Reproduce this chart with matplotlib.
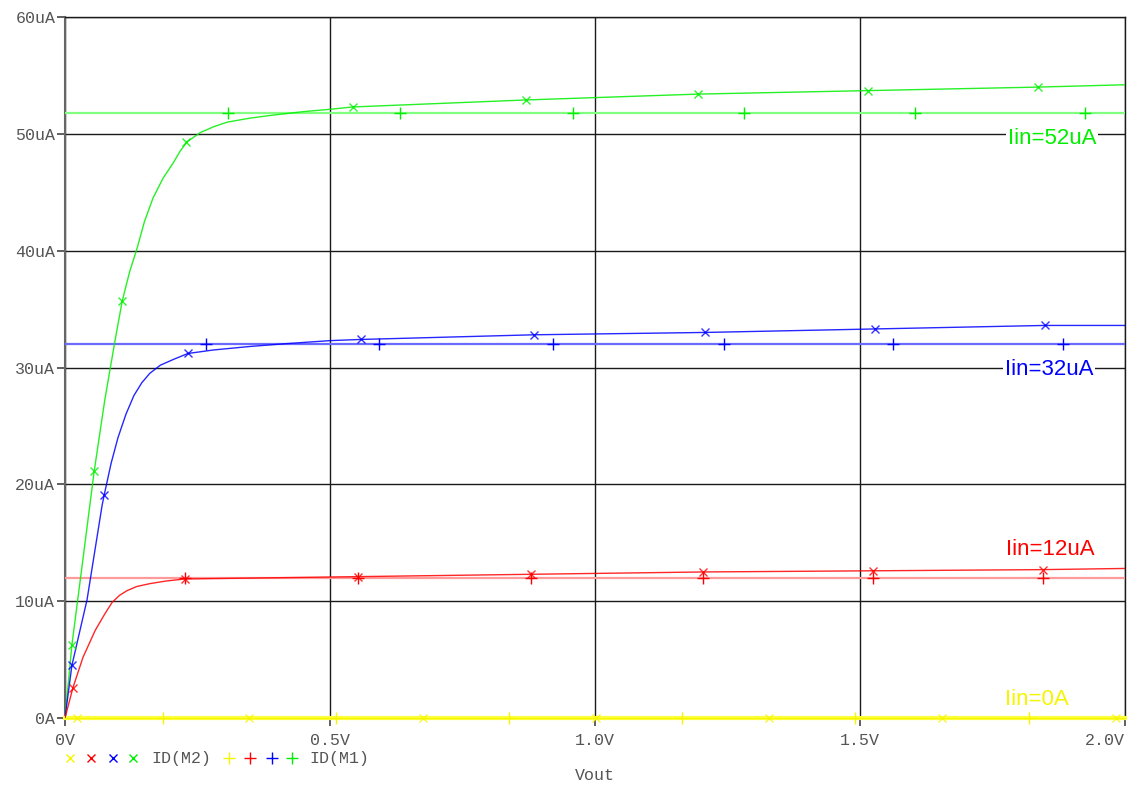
import matplotlib.pyplot as plt
import numpy as np

# ID(M2) traces: Vout (V) vs drain current (uA), one per input current
v_52 = [0.0, 0.013, 0.035, 0.055, 0.075, 0.094, 0.108, 0.122, 0.136, 0.150, 0.166, 0.185, 0.204,
        0.217, 0.230, 0.255, 0.280, 0.306, 0.350, 0.392, 0.450, 0.500,
        0.543, 0.870, 1.194, 1.515, 1.836, 2.0]
i_52 = [0.0, 6.25, 14.0, 21.1, 27.2, 32.2, 35.7, 38.2, 40.2, 42.5, 44.5, 46.2, 47.5,
        48.5, 49.3, 50.1, 50.6, 51.0, 51.35, 51.6, 51.9, 52.1,
        52.3, 52.9, 53.4, 53.7, 54.0, 54.2]

v_32 = [0.0, 0.013, 0.0415, 0.070, 0.074, 0.087, 0.100, 0.115, 0.130, 0.145, 0.160, 0.180, 0.205,
        0.232, 0.280, 0.349, 0.420, 0.500, 0.558, 0.885, 1.208, 1.528, 1.849, 2.0]
i_32 = [0.0, 4.5, 10.1, 18.2, 19.1, 21.8, 24.0, 26.0, 27.6, 28.7, 29.5, 30.2, 30.7,
        31.2, 31.5, 31.8, 32.05, 32.3, 32.4, 32.8, 33.0, 33.3, 33.6, 33.6]

v_12 = [0.0, 0.015, 0.034, 0.057, 0.075, 0.089, 0.103, 0.117, 0.135, 0.160, 0.190, 0.226,
        0.553, 0.879, 1.204, 1.525, 1.845, 2.0]
i_12 = [0.0, 2.6, 5.2, 7.5, 8.9, 9.9, 10.5, 10.9, 11.25, 11.5, 11.72, 11.9,
        12.1, 12.3, 12.5, 12.6, 12.7, 12.8]

v_0 = [0.0, 2.0]
i_0 = [0.0, 0.0]

# ID(M1) traces: reference side, flat at the input current
v_m1 = [0.0, 2.0]
i_m1 = {'52': [51.8, 51.8], '32': [32.0, 32.0], '12': [12.0, 12.0], '0': [0.0, 0.0]}

# symbol positions on each trace
mk2_v = {'52': [0.013, 0.055, 0.108, 0.228, 0.543, 0.870, 1.194, 1.515, 1.836],
         '32': [0.013, 0.074, 0.232, 0.558, 0.885, 1.208, 1.528, 1.849],
         '12': [0.015, 0.226, 0.553, 0.879, 1.204, 1.525, 1.845],
         '0': [0.023, 0.347, 0.675, 1.002, 1.328, 1.655, 1.983]}
mk2_i = {'52': [6.25, 21.1, 35.7, 49.3, 52.3, 52.9, 53.4, 53.7, 54.0],
         '32': [4.5, 19.1, 31.2, 32.4, 32.8, 33.0, 33.3, 33.6],
         '12': [2.6, 11.9, 12.1, 12.3, 12.5, 12.6, 12.7],
         '0': [0, 0, 0, 0, 0, 0, 0]}
mk1_v = {'52': [0.308, 0.632, 0.958, 1.281, 1.604, 1.925],
         '32': [0.266, 0.592, 0.921, 1.243, 1.562, 1.883],
         '12': [0.226, 0.553, 0.879, 1.204, 1.525, 1.845],
         '0': [0.185, 0.511, 0.838, 1.164, 1.491, 1.819]}

labels = {'52': 'Iin=52uA', '32': 'Iin=32uA', '12': 'Iin=12uA', '0': 'Iin=0A'}
label_pos = {'52': (1.862, 49.6), '32': (1.857, 29.8), '12': (1.86, 14.4), '0': (1.833, 1.6)}

colors = {'0': '#f5f500', '12': '#ff0000', '32': '#0000ff', '52': '#00ee00'}
m1_colors = {'0': '#ffff40', '12': '#ff9a9a', '32': '#6a6aff', '52': '#80ff80'}

xticks = [0, 0.5, 1.0, 1.5, 2.0]
xticklabels = ['0V', '0.5V', '1.0V', '1.5V', '2.0V']
yticks = [0, 10, 20, 30, 40, 50, 60]
yticklabels = ['0A', '10uA', '20uA', '30uA', '40uA', '50uA', '60uA']

mono = 'Liberation Mono'
gray = '#555555'
fs = 12

fig = plt.figure(figsize=(11.32, 7.87), dpi=100)
ax = fig.add_axes([65 / 1132, 1 - 718 / 787, 1060 / 1132, 701 / 787])

ax.set_xlim(0, 2.0)
ax.set_ylim(0, 60)
ax.set_xticks(xticks)
ax.set_yticks(yticks)
ax.set_xticklabels(xticklabels, family=mono, fontsize=fs, color=gray)
ax.set_yticklabels(yticklabels, family=mono, fontsize=fs, color=gray)
ax.get_xticklabels()[-1].set_ha('right')
ax.tick_params(axis='both', length=6, width=1.2, color='#444444')
ax.tick_params(axis='x', pad=5)
ax.tick_params(axis='y', pad=1)
ax.grid(True, color='#1a1a1a', linewidth=1.0)
ax.set_axisbelow(True)
for s in ['top', 'right']:
    ax.spines[s].set_color('#1a1a1a')
    ax.spines[s].set_linewidth(1.0)
ax.spines['left'].set_color('#666666')
ax.spines['left'].set_linewidth(1.5)
ax.spines['bottom'].set_color('#666666')

traces = {'52': (v_52, i_52), '32': (v_32, i_32), '12': (v_12, i_12), '0': (v_0, i_0)}

for k in ['52', '32', '12', '0']:
    flat = k == '0'
    ax.plot(v_m1, i_m1[k], color=m1_colors[k], linewidth=3.0 if flat else 1.6,
            zorder=3, clip_on=not flat)
    ax.plot(mk1_v[k], [i_m1[k][0]] * len(mk1_v[k]), linestyle='none', marker='+',
            markersize=8, markeredgewidth=1.0, color=colors[k], zorder=4, clip_on=not flat)
    v, cur = traces[k]
    ax.plot(v, cur, color=colors[k], linewidth=1.0, alpha=0.85, zorder=5, clip_on=not flat)
    ax.plot(mk2_v[k], mk2_i[k], linestyle='none', marker='x', markersize=6,
            markeredgewidth=1.0, color=colors[k], alpha=0.8, zorder=6, clip_on=not flat)
    lx, ly = label_pos[k]
    ax.text(lx, ly, labels[k], color=colors[k], fontsize=16, family='Liberation Sans',
            ha='center', va='center', zorder=7,
            bbox=dict(facecolor='white', edgecolor='none', pad=1.5))

# legend row under the axis
ly = 1 - 758 / 787
for xp, k in zip([70, 91, 113, 133], ['0', '12', '32', '52']):
    ax.plot([xp / 1132], [ly], transform=fig.transFigure, clip_on=False, marker='x',
            markersize=6, markeredgewidth=1.0, color=colors[k], linestyle='none')
fig.text(151 / 1132, ly, 'ID(M2)', family=mono, fontsize=fs, color=gray, va='center')
for xp, k in zip([229, 250, 272, 292], ['0', '12', '32', '52']):
    ax.plot([xp / 1132], [ly], transform=fig.transFigure, clip_on=False, marker='+',
            markersize=8, markeredgewidth=1.0, color=colors[k], linestyle='none')
fig.text(309 / 1132, ly, 'ID(M1)', family=mono, fontsize=fs, color=gray, va='center')

fig.text(595 / 1132, 1 - 775 / 787, 'Vout', family=mono, fontsize=fs, color=gray,
         ha='center', va='center')

fig.savefig('out.png', dpi=100, facecolor='white')
